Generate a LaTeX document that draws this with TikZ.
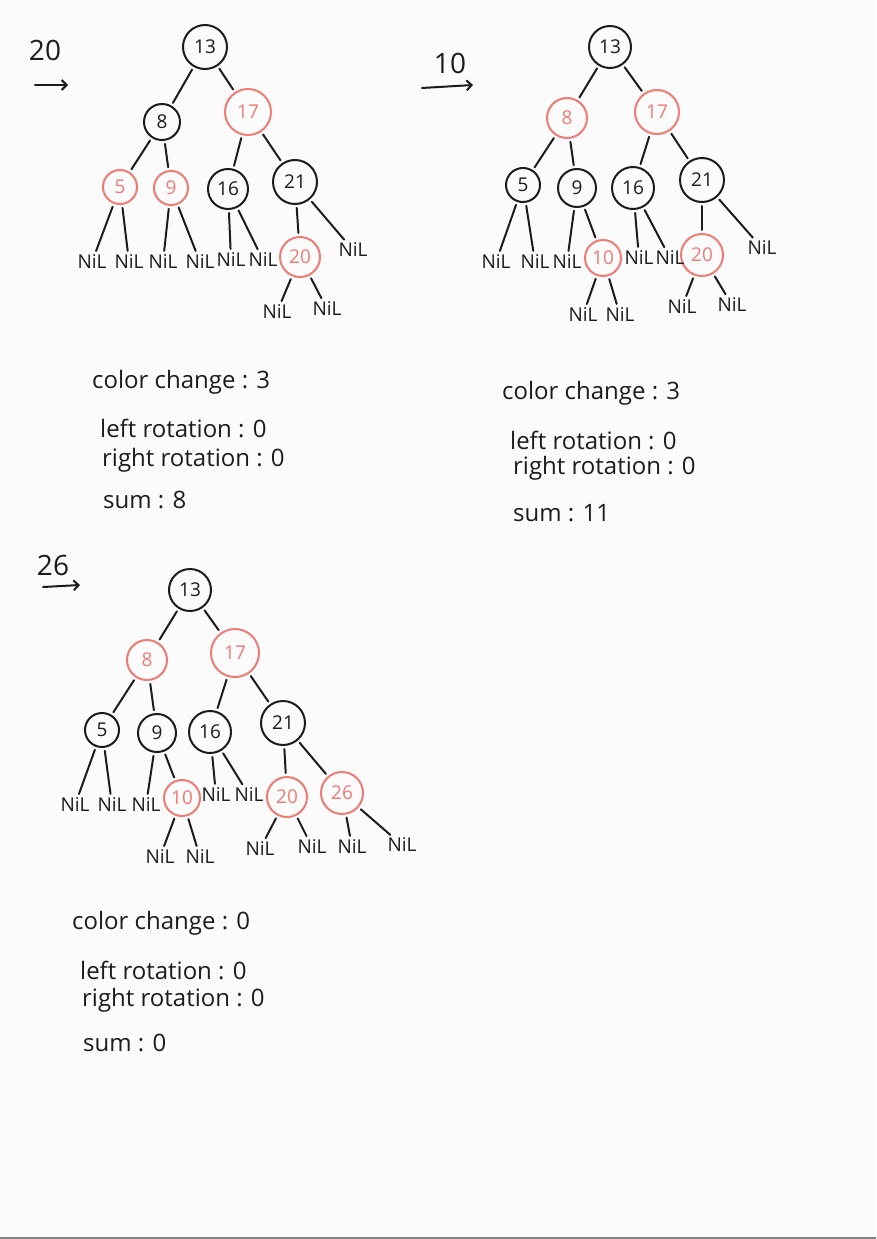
\documentclass[tikz,border=0pt]{standalone}
\usepackage{fontspec}
\setmainfont{Open Sans}
\definecolor{ink}{HTML}{1C1C1C}
\definecolor{rb}{HTML}{EE7B74}
\definecolor{paper}{HTML}{FBFBFB}
\tikzset{
  bn/.style={circle, draw=ink, line width=2pt, text=ink, inner sep=0pt, font=\fontsize{19}{19}\selectfont},
  rn/.style={circle, draw=rb, line width=2pt, text=rb, inner sep=0pt, font=\fontsize{19}{19}\selectfont},
  nil/.style={text=ink, inner sep=1pt, font=\fontsize{19}{19}\selectfont},
  edge/.style={draw=ink, line width=2pt, line cap=round, shorten <=3pt, shorten >=3pt},
  arr/.style={draw=ink, line width=2pt, line cap=round, -{Straight Barb[length=5pt,width=10pt]}},
  lbl/.style={text=ink, inner sep=0pt, font=\fontsize{28}{28}\selectfont},
  note/.style={text=ink, anchor=west, inner sep=0pt, font=\fontsize{24}{24}\selectfont},
}
\usetikzlibrary{arrows.meta}
\begin{document}
\begin{tikzpicture}[x=1pt,y=-1pt]
\fill[paper] (0,0) rectangle (876,1239);
\useasboundingbox (0,0) rectangle (876,1239);
\draw[gray, line width=2pt] (0,1238) -- (876,1238);

% ---------- Tree 1 (insert 20)
\node[lbl] (a-lab) at (45,50) {20};
\coordinate (a-as) at (35,85);
\coordinate (a-ae) at (68,85);
\draw[arr] (a-as) -- (a-ae);
\node[bn, minimum size=44pt] (a13) at (205,47) {13};
\node[bn, minimum size=36pt] (a8) at (162,122) {8};
\node[rn, minimum size=46pt] (a17) at (248,112) {17};
\node[rn, minimum size=34pt] (a5) at (120,187) {5};
\node[rn, minimum size=34pt] (a9) at (171,188) {9};
\node[bn, minimum size=40pt] (a16) at (228,189) {16};
\node[bn, minimum size=44pt] (a21) at (295,182) {21};
\node[rn, minimum size=40pt] (a20) at (300,257) {20};
\node[nil] (a5l) at (92,262) {NiL};
\node[nil] (a5r) at (129,262) {NiL};
\node[nil] (a9l) at (163,262) {NiL};
\node[nil] (a9r) at (200,262) {NiL};
\node[nil] (a16l) at (231,260) {NiL};
\node[nil] (a16r) at (263,260) {NiL};
\node[nil] (a21r) at (353,250) {NiL};
\node[nil] (a20l) at (277,312) {NiL};
\node[nil] (a20r) at (327,309) {NiL};
\foreach \p/\c in {a13/a8,a13/a17,a8/a5,a8/a9,a17/a16,a17/a21,a5/a5l,a5/a5r,a9/a9l,a9/a9r,a16/a16l,a16/a16r,a21/a20,a21/a21r,a20/a20l,a20/a20r}
  \draw[edge] (\p) -- (\c);
\node[note] (a-t1) at (92,382) {color change : 3};
\node[note] (a-t2) at (100,428) {left rotation : 0};
\node[note] (a-t3) at (102,460) {right rotation : 0};
\node[note] (a-t4) at (103,500) {sum : 8};

% ---------- Tree 2 (insert 10)
\node[lbl] (b-lab) at (450,63) {10};
\coordinate (b-as) at (422,88);
\coordinate (b-ae) at (473,85);
\draw[arr] (b-as) -- (b-ae);
\node[bn, minimum size=42pt] (b13) at (610,47) {13};
\node[rn, minimum size=40pt] (b8) at (567,118) {8};
\node[rn, minimum size=44pt] (b17) at (657,112) {17};
\node[bn, minimum size=34pt] (b5) at (523,185) {5};
\node[bn, minimum size=38pt] (b9) at (577,188) {9};
\node[bn, minimum size=42pt] (b16) at (633,188) {16};
\node[bn, minimum size=44pt] (b21) at (702,180) {21};
\node[rn, minimum size=36pt] (b10) at (603,258) {10};
\node[rn, minimum size=42pt] (b20) at (702,255) {20};
\node[nil] (b5l) at (496,262) {NiL};
\node[nil] (b5r) at (535,262) {NiL};
\node[nil] (b9l) at (567,262) {NiL};
\node[nil] (b16l) at (639,258) {NiL};
\node[nil] (b16r) at (670,258) {NiL};
\node[nil] (b21r) at (762,248) {NiL};
\node[nil] (b10l) at (583,315) {NiL};
\node[nil] (b10r) at (620,315) {NiL};
\node[nil] (b20l) at (682,307) {NiL};
\node[nil] (b20r) at (732,305) {NiL};
\foreach \p/\c in {b13/b8,b13/b17,b8/b5,b8/b9,b17/b16,b17/b21,b5/b5l,b5/b5r,b9/b9l,b9/b10,b16/b16l,b16/b16r,b21/b20,b21/b21r,b10/b10l,b10/b10r,b20/b20l,b20/b20r}
  \draw[edge] (\p) -- (\c);
\node[note] (b-t1) at (502,393) {color change : 3};
\node[note] (b-t2) at (510,440) {left rotation : 0};
\node[note] (b-t3) at (513,468) {right rotation : 0};
\node[note] (b-t4) at (513,513) {sum : 11};

% ---------- Tree 3 (insert 26)
\node[lbl] (c-lab) at (53,565) {26};
\coordinate (c-as) at (43,587);
\coordinate (c-ae) at (80,585);
\draw[arr] (c-as) -- (c-ae);
\node[bn, minimum size=42pt] (c13) at (190,590) {13};
\node[rn, minimum size=40pt] (c8) at (147,660) {8};
\node[rn, minimum size=48pt] (c17) at (235,653) {17};
\node[bn, minimum size=34pt] (c5) at (102,730) {5};
\node[bn, minimum size=38pt] (c9) at (157,733) {9};
\node[bn, minimum size=42pt] (c16) at (210,732) {16};
\node[bn, minimum size=44pt] (c21) at (283,723) {21};
\node[rn, minimum size=36pt] (c10) at (182,798) {10};
\node[rn, minimum size=40pt] (c20) at (287,797) {20};
\node[rn, minimum size=42pt] (c26) at (342,793) {26};
\node[nil] (c5l) at (75,805) {NiL};
\node[nil] (c5r) at (112,805) {NiL};
\node[nil] (c9l) at (146,805) {NiL};
\node[nil] (c16l) at (216,795) {NiL};
\node[nil] (c16r) at (249,795) {NiL};
\node[nil] (c10l) at (160,857) {NiL};
\node[nil] (c10r) at (200,857) {NiL};
\node[nil] (c20l) at (260,849) {NiL};
\node[nil] (c20r) at (312,847) {NiL};
\node[nil] (c26l) at (352,847) {NiL};
\node[nil] (c26r) at (402,845) {NiL};
\foreach \p/\c in {c13/c8,c13/c17,c8/c5,c8/c9,c17/c16,c17/c21,c5/c5l,c5/c5r,c9/c9l,c9/c10,c16/c16l,c16/c16r,c21/c20,c21/c26,c10/c10l,c10/c10r,c20/c20l,c20/c20r,c26/c26l,c26/c26r}
  \draw[edge] (\p) -- (\c);
\node[note] (c-t1) at (72,923) {color change : 0};
\node[note] (c-t2) at (80,970) {left rotation : 0};
\node[note] (c-t3) at (82,1000) {right rotation : 0};
\node[note] (c-t4) at (83,1043) {sum : 0};
\end{tikzpicture}
\end{document}
